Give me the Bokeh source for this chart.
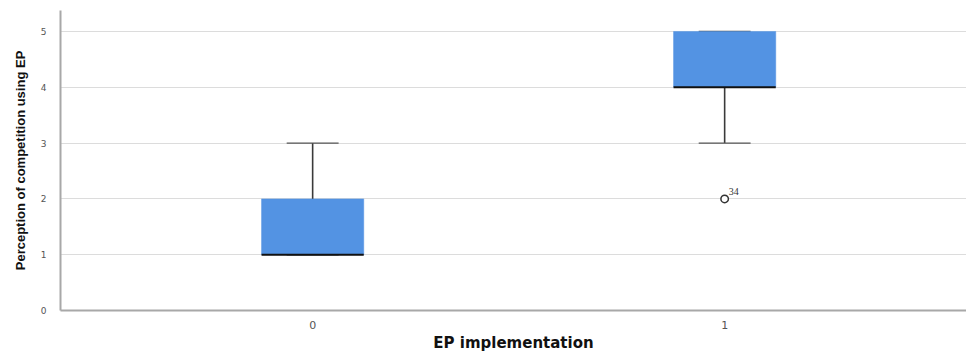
from bokeh.plotting import figure
from bokeh.models import ColumnDataSource, FixedTicker, Range1d
from bokeh.embed import file_html
from bokeh.resources import INLINE

# Data
groups = [0, 1]
q1 = [1, 4]
median = [1, 4]
q3 = [2, 5]
whisker_low = [1, 3]
whisker_high = [3, 5]
outlier_group = [1]
outlier_value = [2]
outlier_label = ["34"]

box_w = 0.248
cap_w = 0.126

src = ColumnDataSource(dict(
    x=groups, q1=q1, med=median, q3=q3, lo=whisker_low, hi=whisker_high,
    xl=[g - box_w / 2 for g in groups], xr=[g + box_w / 2 for g in groups],
    cl=[g - cap_w / 2 for g in groups], cr=[g + cap_w / 2 for g in groups],
))

p = figure(width=966, height=354, output_backend="svg", toolbar_location=None,
           x_range=Range1d(-0.612, 1.587), y_range=Range1d(0, 5.376),
           min_border_left=60, min_border_right=0, min_border_top=10, min_border_bottom=44)
p.outline_line_color = None
p.background_fill_color = "white"

# whiskers
p.segment(x0="x", x1="x", y0="q3", y1="hi", source=src, line_color="#3a3a3a", line_width=1.6)
p.segment(x0="x", x1="x", y0="lo", y1="q1", source=src, line_color="#3a3a3a", line_width=1.6)
p.segment(x0="cl", x1="cr", y0="hi", y1="hi", source=src, line_color="#555555", line_width=1.4)
p.segment(x0="cl", x1="cr", y0="lo", y1="lo", source=src, line_color="#555555", line_width=1.4)
# boxes
p.vbar(x="x", bottom="q1", top="q3", width=box_w, source=src,
       fill_color="#5393e3", line_color="#5393e3", line_width=0.5)
# median
p.segment(x0="xl", x1="xr", y0="med", y1="med", source=src, line_color="#111111", line_width=2)

# outliers
osrc = ColumnDataSource(dict(x=outlier_group, y=outlier_value, t=outlier_label))
p.scatter(x="x", y="y", source=osrc, marker="circle", size=7.5, fill_color="white",
          line_color="#333333", line_width=1.5)
p.text(x="x", y="y", text="t", source=osrc, x_offset=4, y_offset=-4,
       text_font="DejaVu Sans", text_font_size="10px", text_color="#333333",
       text_baseline="bottom", text_align="left")

# axes
p.xaxis.ticker = FixedTicker(ticks=groups)
p.yaxis.ticker = FixedTicker(ticks=[0, 1, 2, 3, 4, 5])
for ax in (p.xaxis[0], p.yaxis[0]):
    ax.axis_line_color = "#a8a8a8"
    ax.axis_line_width = 2
    ax.major_tick_line_color = None
    ax.minor_tick_line_color = None
    ax.major_label_text_font = "DejaVu Sans"
    ax.major_label_text_color = "#555555"
    ax.axis_label_text_font_style = "bold"
    ax.axis_label_text_color = "#111111"

p.xaxis.major_label_text_font_size = "11px"
p.yaxis.major_label_text_font_size = "9px"

p.xaxis.axis_label = "EP implementation"
p.xaxis.axis_label_text_font = "DejaVu Sans"
p.xaxis.axis_label_text_font_size = "15px"
p.xaxis.major_label_standoff = 4
p.xaxis.axis_label_standoff = 2

p.yaxis.axis_label = "Perception of competition using EP"
p.yaxis.axis_label_text_font = "Liberation Sans"
p.yaxis.axis_label_text_font_size = "13px"
p.yaxis.major_label_standoff = 8
p.yaxis.axis_label_standoff = 10

p.xgrid.grid_line_color = None
p.ygrid.grid_line_color = "#dcdcdc"
p.ygrid.grid_line_width = 1.2

open("out.html", "w").write(file_html(p, INLINE))
